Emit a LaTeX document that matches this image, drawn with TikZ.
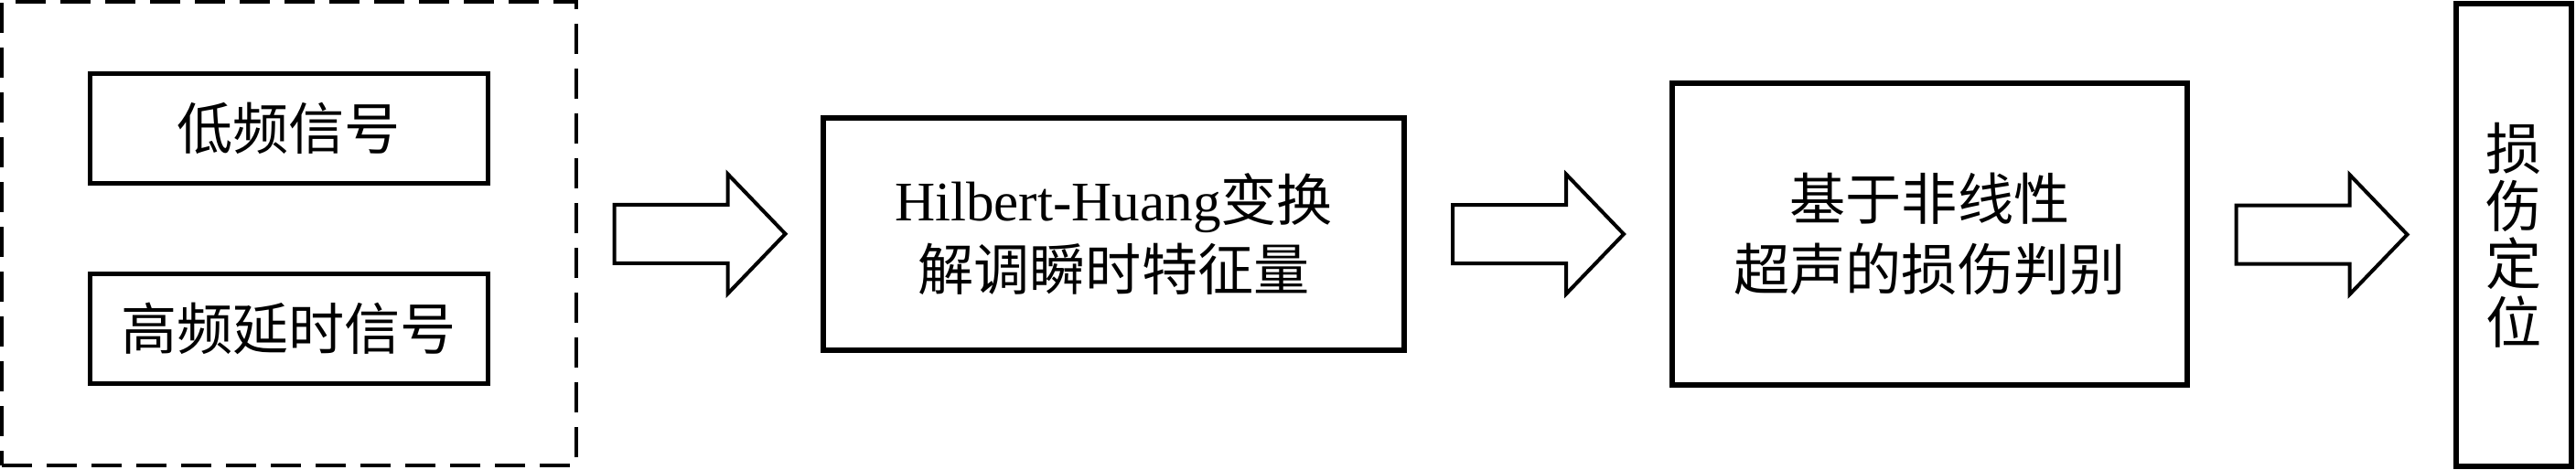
\documentclass[tikz,border=0pt]{standalone}
\usepackage{fontspec}
\setmainfont{Liberation Serif}
\newfontfamily\cjk{Noto Sans CJK SC}
\usepackage{tikz}
\usetikzlibrary{calc}
\newcommand{\fatarrow}[2]{%
  \coordinate (mid#1) at ($(#1.east)!0.5!(#2.west)$);
  \draw[hollow] ($(mid#1)+(-0.935,0.32)$) -- ++(1.24,0) -- ++(0,0.335) -- ($(mid#1)+(0.935,0)$)
    -- ($(mid#1)+(0.305,-0.655)$) -- ++(0,0.335) -- ($(mid#1)+(-0.935,-0.32)$) -- cycle;}

\begin{document}
\begin{tikzpicture}[
    box/.style={draw, line width=0.06cm, outer sep=0pt, inner sep=0pt, align=center, font=\fontsize{17.4}{21.8}\selectfont},
    sig/.style={box, line width=0.05cm, minimum width=4.35cm, minimum height=1.20cm, font=\fontsize{17.4}{21.8}\selectfont\cjk},
    group/.style={draw, line width=0.035cm, dash pattern=on 0.33cm off 0.16cm, outer sep=0pt, minimum width=6.28cm, minimum height=5.07cm},
    hollow/.style={draw, line width=0.04cm}
]
\useasboundingbox (0,0) rectangle (28.16,-5.13);
\node[group] (grp) at (3.16,-2.555) {};
\node[sig] (low) at (3.155,-1.40) {低频信号};
\node[sig] (high) at (3.155,-3.59) {高频延时信号};
\node[box, minimum width=6.35cm, minimum height=2.54cm] (hht) at (12.175,-2.56) {Hilbert-Huang{\cjk 变换}\\{\cjk 解调瞬时特征量}};
\node[box, minimum width=5.63cm, minimum height=3.30cm, font=\fontsize{17.4}{21.8}\selectfont\cjk] (judge) at (21.095,-2.56) {基于非线性\\超声的损伤判别};
\node[box, minimum width=1.26cm, minimum height=5.06cm, font=\fontsize{17.4}{18}\selectfont\cjk] (loc) at (27.48,-2.57) {损\\伤\\定\\位};

\fatarrow{grp}{hht}
\fatarrow{hht}{judge}
\fatarrow{judge}{loc}
\end{tikzpicture}
\end{document}
